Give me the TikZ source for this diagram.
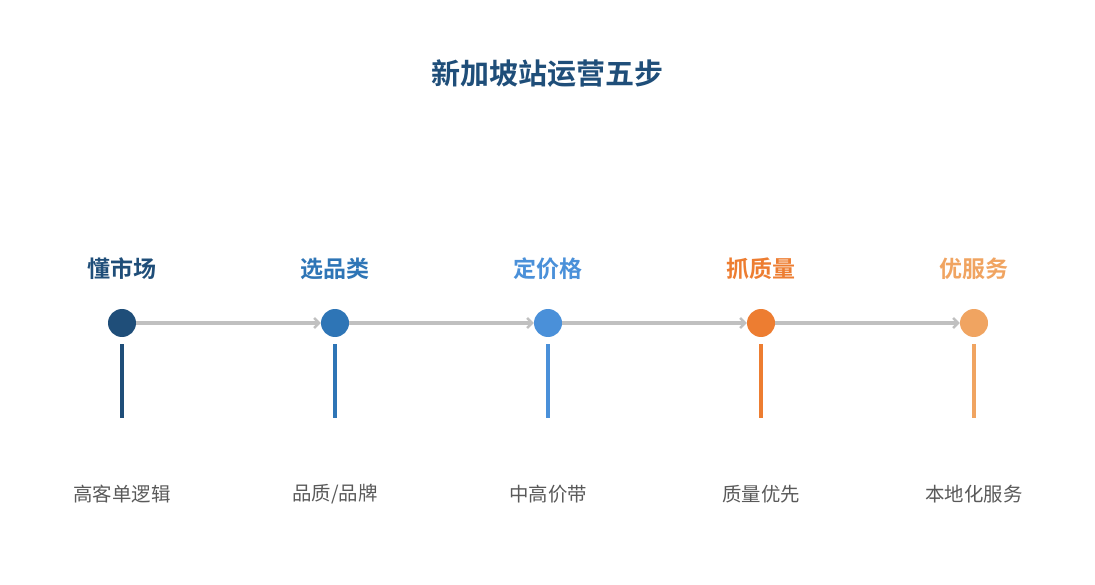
\documentclass[tikz,border=0pt]{standalone}
\usepackage{fontspec}
\setmainfont{Noto Sans CJK SC}
\newfontfamily\cjkbold{Noto Sans CJK SC Bold}
\usetikzlibrary{arrows.meta, calc}

\definecolor{stepA}{HTML}{1F4E79}
\definecolor{stepB}{HTML}{2E75B6}
\definecolor{stepC}{HTML}{4A90D9}
\definecolor{stepD}{HTML}{ED7D31}
\definecolor{stepE}{HTML}{F0A461}
\definecolor{flowgray}{HTML}{C0C0C0}
\definecolor{notegray}{HTML}{595959}

\tikzset{
  dot/.style={circle, fill=#1, minimum size=28pt, inner sep=0pt},
  headlbl/.style={text=#1, font=\cjkbold\fontsize{23}{27}\selectfont},
  notelbl/.style={text=notegray, font=\fontsize{19.4}{23}\selectfont},
  bar/.style={draw=#1, line width=3.5pt},
  flow/.style={draw=flowgray, line width=3.5pt, -{Straight Barb[length=5pt, width=10pt, line width=2.5pt]}}
}

\begin{document}
\begin{tikzpicture}[x=1pt, y=-1pt]
\useasboundingbox (0,0) rectangle (1095,585);

 %%Paramaters
%% row positions, can be modified
\def\headY{269}
\def\dotY{323}
\def\barTop{344}
\def\barBot{418}
\def\noteY{494}

\node[text=stepA, font=\cjkbold\fontsize{29}{34}\selectfont] (title) at (547,74) {新加坡站运营五步};

 %% ***Step dots***
\node[dot=stepA] (d1) at (122, \dotY) {};
\node[dot=stepB] (d2) at (335, \dotY) {};
\node[dot=stepC] (d3) at (548, \dotY) {};
\node[dot=stepD] (d4) at (761, \dotY) {};
\node[dot=stepE] (d5) at (974, \dotY) {};

%% step names
\node[headlbl=stepA] (h1) at (122, \headY) {懂市场};
\node[headlbl=stepB] (h2) at (335, \headY) {选品类};
\node[headlbl=stepC] (h3) at (548, \headY) {定价格};
\node[headlbl=stepD] (h4) at (761, \headY) {抓质量};
\node[headlbl=stepE] (h5) at (974, \headY) {优服务};

%% notes under the bars
\node[notelbl] (n1) at (122, \noteY) {高客单逻辑};
\node[notelbl] (n2) at (335, \noteY) {品质/品牌};
\node[notelbl] (n3) at (548, \noteY) {中高价带};
\node[notelbl] (n4) at (761, \noteY) {质量优先};
\node[notelbl] (n5) at (974, \noteY) {本地化服务};

 %% Flow arrows
\draw[flow] (d1) -- (d2);
\draw[flow] (d2) -- (d3);
\draw[flow] (d3) -- (d4);
\draw[flow] (d4) -- (d5);

%% Bars
\coordinate (b1) at (122, \barBot);
\coordinate (b2) at (335, \barBot);
\coordinate (b3) at (548, \barBot);
\coordinate (b4) at (761, \barBot);
\coordinate (b5) at (974, \barBot);
\draw[bar=stepA] (d1 |- 0,\barTop) -- (b1);
\draw[bar=stepB] (d2 |- 0,\barTop) -- (b2);
\draw[bar=stepC] (d3 |- 0,\barTop) -- (b3);
\draw[bar=stepD] (d4 |- 0,\barTop) -- (b4);
\draw[bar=stepE] (d5 |- 0,\barTop) -- (b5);

\end{tikzpicture}
\end{document}
